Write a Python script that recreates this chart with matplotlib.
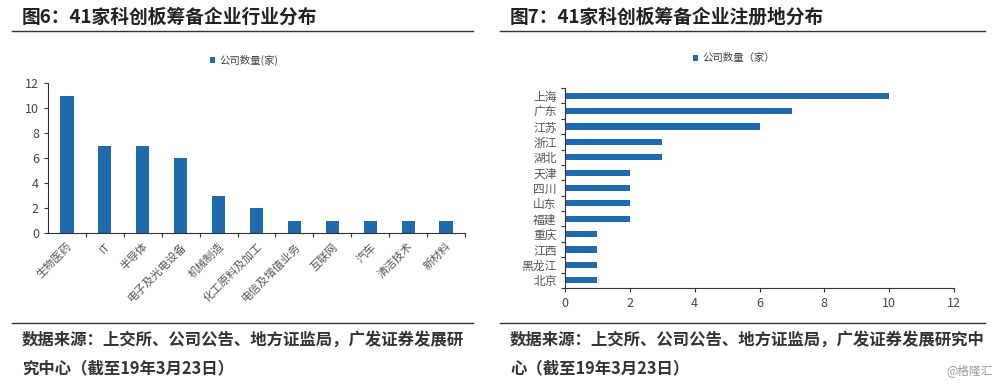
import matplotlib
matplotlib.use("Agg")
import matplotlib.pyplot as plt
from matplotlib.lines import Line2D

plt.rcParams['font.family'] = ['Noto Sans CJK SC', 'DejaVu Sans']

# industry distribution (left chart)
industries = ["生物医药", "IT", "半导体", "电子及光电设备", "机械制造", "化工原料及加工",
              "电信及增值业务", "互联网", "汽车", "清洁技术", "新材料"]
industry_counts = [11, 7, 7, 6, 3, 2, 1, 1, 1, 1, 1]

# registration place distribution (right chart)
regions = ["上海", "广东", "江苏", "浙江", "湖北", "天津", "四川", "山东", "福建",
           "重庆", "江西", "黑龙江", "北京"]
region_counts = [10, 7, 6, 3, 3, 2, 2, 2, 2, 1, 1, 1, 1]

bar_color = "#1F6AAD"
label_color = "#555555"
W, H = 1000, 385

fig = plt.figure(figsize=(10, 3.85), dpi=100)


def px(x0, y0, x1, y1):
    # pixel box -> figure fraction rect
    return [x0 / W, 1 - y1 / H, (x1 - x0) / W, (y1 - y0) / H]


# titles, rules, sources
fig.text(22 / W, 1 - 17 / H, "图6：41家科创板筹备企业行业分布", fontsize=13.5,
         fontweight="bold", color="#222222", va="center")
fig.text(510 / W, 1 - 17 / H, "图7：41家科创板筹备企业注册地分布", fontsize=13.5,
         fontweight="bold", color="#222222", va="center")
for (x0, x1) in [(12, 473), (500, 985)]:
    for y in (31, 323):
        fig.add_artist(Line2D([x0 / W, x1 / W], [1 - y / H, 1 - y / H],
                              color="#333333", lw=1.0))

src_kw = dict(fontsize=11.8, fontweight="bold", color="#333333", va="center")
fig.text(22 / W, 1 - 340 / H, "数据来源：上交所、公司公告、地方证监局，广发证券发展研", **src_kw)
fig.text(22 / W, 1 - 368 / H, "究中心（截至19年3月23日）", **src_kw)
fig.text(510 / W, 1 - 340 / H, "数据来源：上交所、公司公告、地方证监局，广发证券发展研究中", **src_kw)
fig.text(510 / W, 1 - 368 / H, "心（截至19年3月23日）", **src_kw)
fig.text(993 / W, 1 - 371 / H, "@格隆汇", fontsize=8.5, color="#999999",
         ha="right", va="center")

# left chart
ax1 = fig.add_axes(px(48, 83, 465, 233))
ax1.bar(range(len(industries)), industry_counts, width=0.35, color=bar_color,
        label="公司数量(家)")
ax1.set_ylim(0, 12)
ax1.set_yticks(range(0, 13, 2))
ax1.set_xlim(-0.5, len(industries) - 0.5)
ax1.set_xticks([i + 0.5 for i in range(len(industries))], minor=False)
ax1.set_xticklabels([])
ax1.set_xticks(range(len(industries)), minor=True)
ax1.set_xticklabels(industries, minor=True, rotation=45, ha="right",
                    rotation_mode="anchor", fontsize=8, color=label_color)
ax1.tick_params(axis="x", which="minor", length=0, pad=6)
ax1.tick_params(axis="x", which="major", length=3, direction="out", color="#333333")
ax1.tick_params(axis="y", length=3, labelsize=9, colors="#333333", labelcolor="#444444")
for s in ("top", "right"):
    ax1.spines[s].set_visible(False)
for s in ("left", "bottom"):
    ax1.spines[s].set_color("#333333")
ax1.legend(loc="upper center", bbox_to_anchor=(0.47, 1.25), frameon=False,
           fontsize=7.5, handlelength=0.5, handleheight=0.5, handletextpad=0.4,
           labelcolor="#444444")

# right chart
ax2 = fig.add_axes(px(565, 88, 954, 288))
ypos = range(len(regions))
ax2.barh(ypos, region_counts, height=0.4, color=bar_color, label="公司数量（家）")
ax2.set_ylim(len(regions) - 0.5, -0.5)
ax2.set_xlim(0, 12)
ax2.set_xticks(range(0, 13, 2))
ax2.set_yticks([i + 0.5 for i in range(-1, len(regions))])
ax2.set_yticklabels([])
ax2.set_yticks(list(ypos), minor=True)
ax2.set_yticklabels(regions, minor=True, fontsize=8.5, color=label_color)
ax2.tick_params(axis="y", which="minor", length=0, pad=6)
ax2.tick_params(axis="y", which="major", length=3, color="#333333")
ax2.tick_params(axis="x", length=3, labelsize=9, colors="#333333", labelcolor="#444444")
for s in ("top", "right"):
    ax2.spines[s].set_visible(False)
for s in ("left", "bottom"):
    ax2.spines[s].set_color("#333333")
ax2.legend(loc="upper center", bbox_to_anchor=(0.435, 1.22), frameon=False,
           fontsize=7.5, handlelength=0.5, handleheight=0.5, handletextpad=0.4,
           labelcolor="#444444")

fig.savefig("out.png", dpi=100)
